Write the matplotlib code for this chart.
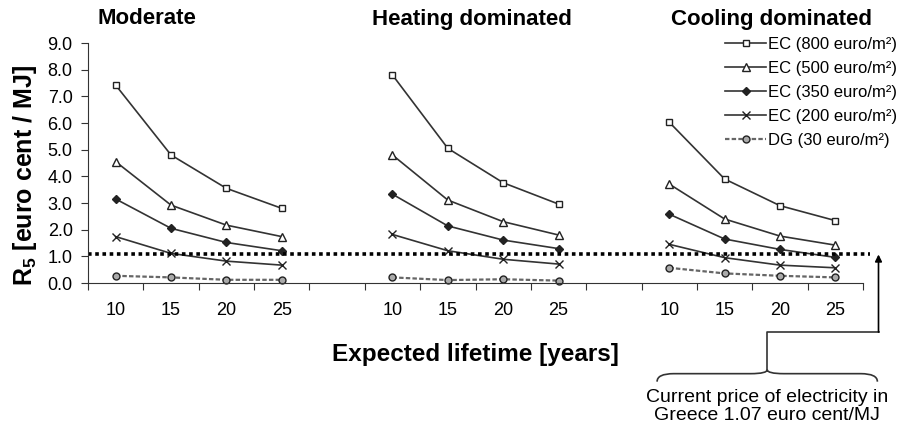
import numpy as np
import matplotlib
matplotlib.use("Agg")
import matplotlib.pyplot as plt
from matplotlib.path import Path
from matplotlib.patches import PathPatch

plt.rcParams['font.family'] = ['Liberation Sans', 'DejaVu Sans']
plt.rcParams['mathtext.fontset'] = 'custom'
plt.rcParams['mathtext.rm'] = 'Liberation Sans'
plt.rcParams['mathtext.bf'] = 'Liberation Sans:bold'

# data
climates = ['Moderate', 'Heating dominated', 'Cooling dominated']
lifetimes = ['10', '15', '20', '25']
series = ['EC (800 euro/m²)', 'EC (500 euro/m²)', 'EC (350 euro/m²)',
          'EC (200 euro/m²)', 'DG (30 euro/m²)']

moderate = [
    [7.42, 4.80, 3.55, 2.80],
    [4.55, 2.92, 2.17, 1.74],
    [3.15, 2.05, 1.52, 1.21],
    [1.74, 1.11, 0.82, 0.67],
    [0.27, 0.21, 0.12, 0.12],
]
heating = [
    [7.80, 5.05, 3.76, 2.96],
    [4.80, 3.11, 2.30, 1.80],
    [3.33, 2.14, 1.61, 1.29],
    [1.82, 1.21, 0.89, 0.71],
    [0.21, 0.11, 0.14, 0.09],
]
cooling = [
    [6.03, 3.90, 2.90, 2.34],
    [3.71, 2.40, 1.76, 1.42],
    [2.58, 1.65, 1.26, 0.96],
    [1.45, 0.95, 0.67, 0.57],
    [0.57, 0.36, 0.27, 0.21],
]
electricity_price = 1.07

markers = ['s', '^', 'D', 'x', 'o']
faces = ['white', 'white', '#222222', 'none', '#aaaaaa']
msizes = [5, 5.5, 4, 6, 5]

fig = plt.figure(figsize=(9.01, 4.30), dpi=100)
ax = fig.add_axes([88 / 901, 1 - 283 / 430, 775 / 901, 240 / 430])

group_data = [moderate, heating, cooling]
for g, data in enumerate(group_data):
    xs = np.arange(4) + 5 * g
    for i, vals in enumerate(data):
        if i == 4:
            ls, col, lw = (0, (2, 1)), '#666666', 1.6
        else:
            ls, col, lw = '-', '#333333', 1.2
        ax.plot(xs, vals, linestyle=ls, color=col, lw=lw, marker=markers[i],
                ms=msizes[i], mfc=faces[i], mec='#222222', mew=1.0,
                label=series[i] if g == 0 else None, clip_on=False)

# electricity price reference line
ax.plot([-0.5, 13.62], [electricity_price, electricity_price], ls=(0, (1, 1)),
        color='black', lw=2.6, clip_on=False)

ax.set_xlim(-0.5, 13.5)
ax.set_ylim(0, 9)
ax.set_yticks(np.arange(0, 10, 1))
ax.set_yticklabels(['%.1f' % v for v in range(10)], fontsize=13)
ax.set_xticks(np.arange(-0.5, 14, 1))
ax.set_xticklabels([])
ax.set_xticks([x + 5 * g for g in range(3) for x in range(4)], minor=True)
ax.set_xticklabels(lifetimes * 3, minor=True, fontsize=13)
ax.tick_params(axis='x', which='minor', length=0, pad=14)
ax.tick_params(axis='x', which='major', direction='out', length=5, color='#333333')
ax.tick_params(axis='y', direction='out', length=5, pad=6, color='#333333')
for s in ['top', 'right']:
    ax.spines[s].set_visible(False)
for s in ['left', 'bottom']:
    ax.spines[s].set_color('#333333')

# titles
title_x = [0.57, 6.44, 11.84]
for t, x in zip(climates, title_x):
    ax.text(x, 9.9, t, ha='center', va='center', fontsize=16, fontweight='bold',
            clip_on=False)

fig.text(475 / 901, 1 - 355 / 430, 'Expected lifetime [years]', ha='center',
         va='center', fontsize=17.5, fontweight='bold')
fig.text(25 / 901, 1 - 176 / 430, r'R$_\mathbf{5}$ [euro cent / MJ]', ha='center',
         va='center', rotation=90, fontsize=18, fontweight='bold')

# arrow, connector and brace
ax.annotate('', xy=(13.78, electricity_price), xytext=(13.78, -1.84),
            arrowprops=dict(arrowstyle='-|>', color='black', lw=1.2,
                            mutation_scale=10, shrinkA=0, shrinkB=0),
            annotation_clip=False)
ax.plot([13.78, 11.77, 11.77], [-1.84, -1.84, -3.25], color='#333333', lw=1.2,
        clip_on=False)

bx0, bx1, bc = 9.78, 13.76, 11.77
by, dh = -3.40, 0.15
verts = [(bx0, by - 2 * dh), (bx0, by), (bx0 + 0.3, by),
         (bc - 0.3, by), (bc, by), (bc, by + dh),
         (bc, by), (bc + 0.3, by),
         (bx1 - 0.3, by), (bx1, by), (bx1, by - 2 * dh)]
codes = [Path.MOVETO, Path.CURVE3, Path.CURVE3,
         Path.LINETO, Path.CURVE3, Path.CURVE3,
         Path.CURVE3, Path.CURVE3,
         Path.LINETO, Path.CURVE3, Path.CURVE3]
ax.add_patch(PathPatch(Path(verts, codes), fill=False, color='#333333', lw=1.2,
                       clip_on=False))
ax.text(bc, -3.98, 'Current price of electricity in\nGreece 1.07 euro cent/MJ',
        ha='center', va='top', fontsize=14, linespacing=1.05, clip_on=False)

leg = fig.legend(loc='upper left', bbox_to_anchor=(718 / 901, 1 - 30 / 430),
                 frameon=False, fontsize=12, handlelength=2.5, handletextpad=0.1,
                 labelspacing=0.55, borderaxespad=0)

fig.savefig('out.png', dpi=100)
